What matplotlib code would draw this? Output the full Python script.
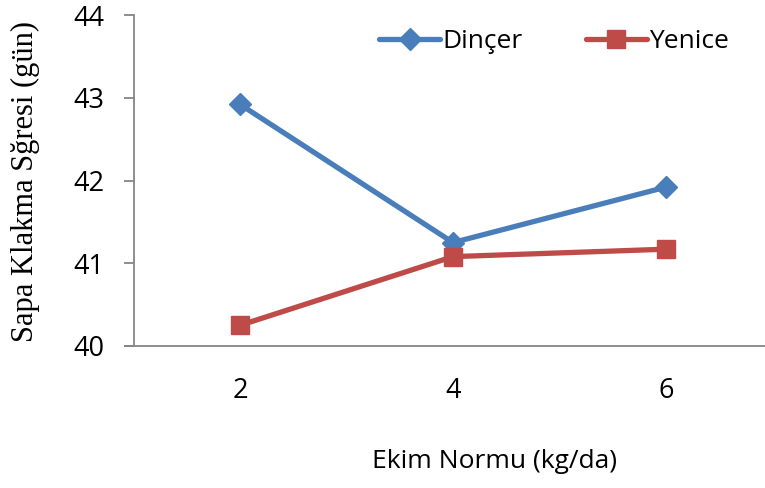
import matplotlib
matplotlib.use("Agg")
import matplotlib.pyplot as plt
from matplotlib.lines import Line2D

categories = ["2", "4", "6"]
dincer = [42.92, 41.25, 41.92]
yenice = [40.25, 41.08, 41.17]
y_ticks = [40, 41, 42, 43, 44]

blue = "#4A7EBB"
red = "#BE4B48"
axis_grey = "#868686"
sans = ["Open Sans", "DejaVu Sans"]

fig = plt.figure(figsize=(7.65, 4.88), dpi=100)
ax = fig.add_axes([133.5 / 765, 1 - 346 / 488, 639 / 765, 331 / 488])

x = list(range(len(categories)))
ax.plot(x, dincer, color=blue, lw=3.8, marker="D", ms=11, mec=blue, mfc=blue,
        solid_capstyle="round")
ax.plot(x, yenice, color=red, lw=3.8, marker="s", ms=13, mec=red, mfc=red,
        solid_capstyle="round")

ax.set_xlim(-0.5, 2.5)
ax.set_ylim(40, 44)
ax.set_yticks(y_ticks)
ax.set_xticks(x)
ax.set_xticklabels(categories)

for s in ["top", "right"]:
    ax.spines[s].set_visible(False)
for s in ["left", "bottom"]:
    ax.spines[s].set_color(axis_grey)
    ax.spines[s].set_linewidth(1.3)
ax.spines["bottom"].set_bounds(-0.54, 2.5)
ax.tick_params(axis="y", length=7, width=1.3, color=axis_grey, pad=14,
               labelsize=19.5)
ax.tick_params(axis="x", length=0, pad=22, labelsize=19.5)
for lab in ax.get_xticklabels() + ax.get_yticklabels():
    lab.set_family(sans)

fig.text(25 / 765, 1 - 182 / 488, "Sapa Klakma Sğresi (gün)",
         family=["Liberation Serif", "DejaVu Serif"], fontsize=22,
         rotation=90, ha="center", va="center")
fig.text(495 / 765, 1 - 462 / 488, "Ekim Normu (kg/da)", family=sans,
         fontsize=19, ha="center", va="center")

handles = [
    Line2D([], [], color=blue, lw=3.8, marker="D", ms=11, solid_capstyle="round"),
    Line2D([], [], color=red, lw=3.8, marker="s", ms=13, solid_capstyle="round"),
]
leg = fig.legend(handles, ["Dinçer", "Yenice"], loc="center left",
                 bbox_to_anchor=(366 / 765, 1 - 42 / 488), ncol=2, frameon=False,
                 prop={"family": sans, "size": 19}, handlelength=2.3,
                 handletextpad=0.1, columnspacing=2.4, borderpad=0)

fig.savefig("out.png", dpi=100)
